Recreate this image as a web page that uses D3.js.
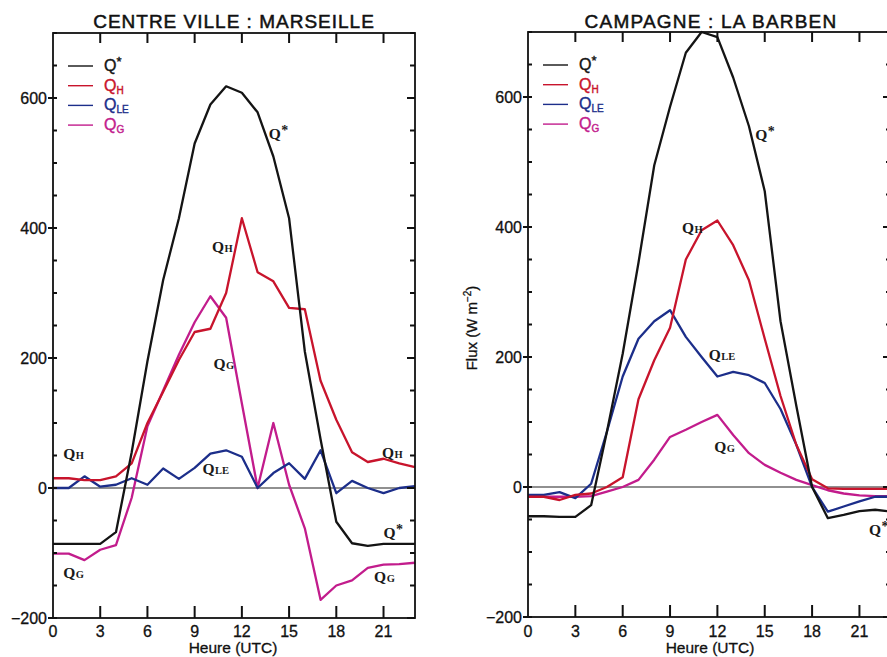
<!DOCTYPE html>
<html>
<head>
<meta charset="utf-8">
<script src="https://cdn.jsdelivr.net/npm/d3@7/dist/d3.min.js"></script>
<style>
body{margin:0;background:#fff}
</style>
</head>
<body>
<div id="chart"></div>
<script>
// hourly values, W m-2
var hours = [0,1,2,3,4,5,6,7,8,9,10,11,12,13,14,15,16,17,18,19,20,21,22,23]

var city_qstar = [-86,-86,-86,-86,-68,55,195,320,415,530,590,618,608,578,510,415,210,75,-52,-85,-89,-86,-86,-86]
var city_qh    = [15,15,12,12,18,38,100,148,197,240,245,300,415,332,318,277,275,165,105,55,40,45,38,32]
var city_qle   = [0,0,18,2,5,15,5,30,14,31,53,58,48,0,23,38,14,58,-8,11,0,-8,0,3]
var city_qg    = [-101,-101,-111,-95,-88,-15,95,150,205,255,295,262,130,0,100,5,-62,-172,-150,-142,-123,-118,-117,-115]

var rural_qstar = [-45,-45,-46,-46,-28,85,205,345,495,585,668,700,692,630,555,455,255,125,0,-48,-43,-37,-35,-38]
var rural_qh    = [-15,-15,-20,-12,-10,0,15,135,195,245,350,395,410,372,318,228,140,65,12,-2,-3,-3,-3,-3]
var rural_qle   = [-12,-12,-8,-17,5,85,170,228,255,272,231,200,170,177,172,160,120,65,0,-38,-30,-22,-15,-15]
var rural_qg    = [-15,-15,-15,-15,-14,-7,0,11,42,77,88,100,111,80,52,34,22,11,3,-5,-10,-13,-14,-14]

var xTicks = [0,3,6,9,12,15,18,21]
var yTicks = [-200,0,200,400,600]
var yMinor = [-200,-150,-100,-50,0,50,100,150,200,250,300,350,400,450,500,550,600,650,700]

var legendNames = [{q:"Q",sub:"*"},{q:"Q",sub:"H"},{q:"Q",sub:"LE"},{q:"Q",sub:"G"}]
var colors = ["#141414","#c8142c","#1c2e8a","#c21c8c"]

// inline labels, placed in data units (hour, flux)
var city_labels = [
    {q:"Q",sub:"*",h:13.7,v:537},
    {q:"Q",sub:"H",h:10.1,v:363},
    {q:"Q",sub:"G",h:10.2,v:183},
    {q:"Q",sub:"H",h:0.65,v:45},
    {q:"Q",sub:"LE",h:9.5,v:22},
    {q:"Q",sub:"H",h:20.9,v:46},
    {q:"Q",sub:"*",h:21.0,v:-77},
    {q:"Q",sub:"G",h:20.4,v:-145},
    {q:"Q",sub:"G",h:0.65,v:-138}
]
var rural_labels = [
    {q:"Q",sub:"*",h:14.4,v:534},
    {q:"Q",sub:"H",h:9.75,v:391},
    {q:"Q",sub:"LE",h:11.45,v:195},
    {q:"Q",sub:"G",h:11.8,v:54},
    {q:"Q",sub:"*",h:21.6,v:-74}
]

var W = 887, H = 657
var sans = "'Liberation Sans', Arial, sans-serif"
var serif = "'Liberation Serif', 'DejaVu Serif', serif"

var svg = d3.select("#chart").append("svg")
    .attr("width",W).attr("height",H)
    .style("background","#fff")

function drawPanel(p){
    var x = d3.scaleLinear().domain([0,23]).range([p.left,p.right])
    var y = d3.scaleLinear().domain([-200,700]).range([p.bottom,p.top])
    var g = svg.append("g")

    // zero line
    g.append("line")
    .attr("x1",p.left).attr("x2",p.right)
    .attr("y1",y(0)).attr("y2",y(0))
    .attr("stroke","#222").attr("stroke-width",1.1)

    // curves, QG drawn first so the others sit on top like the scan
    var line = d3.line().x((d,i)=>x(hours[i])).y(d=>y(d))
    var order = [3,2,1,0]
    order.forEach(k=>{
        g.append("path")
        .attr("d",line(p.series[k]))
        .attr("fill","none")
        .attr("stroke",colors[k])
        .attr("stroke-width",2.3)
        .attr("stroke-linejoin","round")
    })

    // tick marks, all pointing inwards except the labelled left ones
    var tk = g.append("g").attr("stroke","#111").attr("stroke-width",2)
    tk.selectAll(".xb").data(xTicks.slice(1)).enter().append("line")
    .attr("x1",d=>x(d)).attr("x2",d=>x(d))
    .attr("y1",p.bottom).attr("y2",p.bottom-12)
    tk.selectAll(".xt").data(xTicks.slice(1)).enter().append("line")
    .attr("x1",d=>x(d)).attr("x2",d=>x(d))
    .attr("y1",p.top).attr("y2",p.top+10)
    tk.selectAll(".yl").data(yMinor).enter().append("line")
    .attr("x1",d=>p.left-(yTicks.indexOf(d)>=0?5:0)).attr("x2",p.left+4)
    .attr("y1",d=>y(d)).attr("y2",d=>y(d))
    tk.selectAll(".yr").data(yMinor).enter().append("line")
    .attr("x1",d=>p.right-(yTicks.indexOf(d)>=0?8:5)).attr("x2",p.right)
    .attr("y1",d=>y(d)).attr("y2",d=>y(d))

    // tick labels
    g.selectAll(".xl").data(xTicks).enter().append("text")
    .attr("x",d=>x(d)).attr("y",637)
    .attr("text-anchor","middle")
    .attr("font-family",sans).attr("font-size",16).attr("fill","#111")
    .attr("stroke","#111").attr("stroke-width",0.3)
    .text(d=>d)
    g.selectAll(".yl2").data(yTicks).enter().append("text")
    .attr("x",p.left-6).attr("y",d=>y(d)+5.5)
    .attr("text-anchor","end")
    .attr("font-family",sans).attr("font-size",16).attr("fill","#111")
    .attr("stroke","#111").attr("stroke-width",0.3)
    .text(d=>d<0?"\u2212"+(-d):d)

    // frame
    g.append("rect")
    .attr("x",p.left).attr("y",p.top)
    .attr("width",p.right-p.left).attr("height",p.bottom-p.top)
    .attr("fill","none").attr("stroke","#111").attr("stroke-width",1.8)

    // legend
    var leg = g.selectAll(".leg").data(legendNames).enter().append("g")
        .attr("transform",(d,i)=>"translate("+(p.left+15)+","+(p.top+33+i*19.7)+")")
    leg.append("line")
    .attr("x1",0).attr("x2",25)
    .attr("stroke",(d,i)=>colors[i]).attr("stroke-width",1.4)
    var lt = leg.append("text")
    .attr("x",36).attr("y",5)
    .attr("font-family",sans).attr("font-size",16)
    .attr("fill",(d,i)=>colors[i])
    .attr("stroke",(d,i)=>colors[i]).attr("stroke-width",0.4)
    .text(d=>d.q)
    lt.append("tspan")
    .attr("font-size",d=>d.sub=="*"?13:10)
    .attr("dy",d=>d.sub=="*"?-5:3)
    .text(d=>d.sub)

    // inline labels
    var il = g.selectAll(".lab").data(p.labels).enter().append("text")
    .attr("x",d=>x(d.h)).attr("y",d=>y(d.v))
    .attr("font-family",serif).attr("font-weight","bold")
    .attr("font-size",15.5).attr("fill","#1a1a1a")
    .text(d=>d.q)
    il.append("tspan")
    .attr("font-size",d=>d.sub=="*"?14:10.5)
    .attr("dy",d=>d.sub=="*"?-4:0)
    .attr("dx",0.5)
    .text(d=>d.sub)

    // title + x label
    g.append("text")
    .text(p.title)
    .attr("x",p.titleX).attr("y",28)
    .attr("text-anchor","middle")
    .attr("letter-spacing",p.titleSpacing)
    .attr("font-family",sans).attr("font-size",19).attr("fill","#111")
    .attr("stroke","#111").attr("stroke-width",0.5)

    g.append("text")
    .text("Heure (UTC)")
    .attr("x",p.xlabX).attr("y",653)
    .attr("text-anchor","middle")
    .attr("font-family",sans).attr("font-size",15.5).attr("fill","#111")
    .attr("stroke","#111").attr("stroke-width",0.3)

    return {x:x,y:y}
}

drawPanel({
    left:53,right:415,top:33,bottom:618,
    series:[city_qstar,city_qh,city_qle,city_qg],
    labels:city_labels,
    title:"CENTRE VILLE : MARSEILLE",titleX:234,titleSpacing:1,
    xlabX:233
})

drawPanel({
    left:528,right:891,top:32,bottom:617,
    series:[rural_qstar,rural_qh,rural_qle,rural_qg],
    labels:rural_labels,
    title:"CAMPAGNE : LA BARBEN",titleX:711,titleSpacing:1.2,
    xlabX:710
})

// y axis title of the right panel
var ylab = svg.append("text")
    .attr("transform","translate(477,328) rotate(-90)")
    .attr("text-anchor","middle")
    .attr("font-family",sans).attr("font-size",15).attr("fill","#111")
    .attr("stroke","#111").attr("stroke-width",0.3)
    .text("Flux (W m")
ylab.append("tspan").attr("font-size",10).attr("dy",-6).text("\u22122")
ylab.append("tspan").attr("dy",6).text(")")
</script>
</body>
</html>
